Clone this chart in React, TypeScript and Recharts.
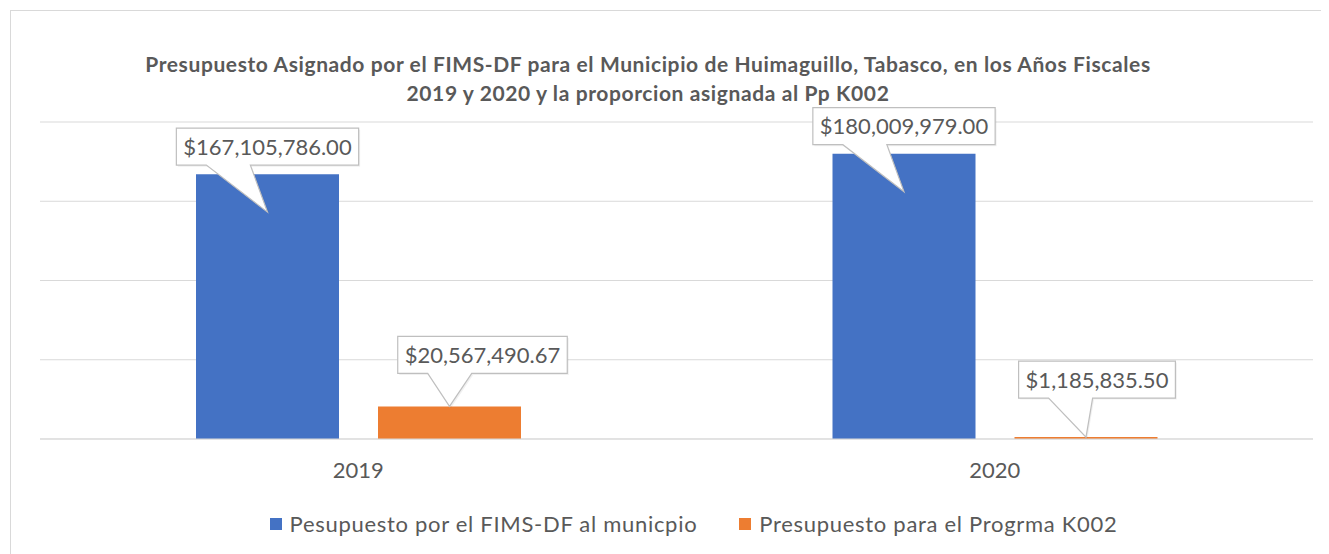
import { BarChart, Bar, XAxis, YAxis, CartesianGrid, Legend, LabelList } from "recharts";

// Presupuesto FIMS-DF Huimaguillo
const years = ["2019", "2020"];
const fimsValues = [167105786.0, 180009979.0];
const k002Values = [20567490.67, 1185835.5];
const yTicks = [0, 50000000, 100000000, 150000000, 200000000];

const seriesNames = {
  fims: "Pesupuesto por el FIMS-DF al municpio",
  k002: "Presupuesto para el Progrma K002",
};

const data = years.map((year, i) => ({ year, fims: fimsValues[i], k002: k002Values[i] }));

const BLUE = "#4472C4";
const ORANGE = "#ED7D31";
const TEXT = "#595959";
const GRID = "#d9d9d9";
const FONT = "Lato, 'Open Sans', sans-serif";

// desplazamientos de las llamadas (caja respecto a la barra)
const calloutLayout: Record<string, { dx: number; gap: number; tip: number }[]> = {
  fims: [
    { dx: 0, gap: 9, tip: 38 },
    { dx: 0, gap: 9, tip: 38 },
  ],
  k002: [
    { dx: 33, gap: 33, tip: 0 },
    { dx: 11, gap: 39, tip: 0 },
  ],
};

const fmt = (v: number) =>
  "$" + v.toLocaleString("en-US", { minimumFractionDigits: 2, maximumFractionDigits: 2 });

let measureCtx: CanvasRenderingContext2D | null = null;
function textWidth(s: string, font: string) {
  if (!measureCtx) measureCtx = document.createElement("canvas").getContext("2d");
  if (!measureCtx) return s.length * 11;
  measureCtx.font = font;
  return measureCtx.measureText(s).width;
}

function makeCallout(key: string) {
  return (props: any) => {
    const { x, y, width, value, index } = props;
    const lay = calloutLayout[key][index];
    const label = fmt(Number(value));
    const w = textWidth(label, `22px ${FONT}`) + 14;
    const h = 37;
    const cx = Number(x) + Number(width) / 2;
    const top = Number(y);
    const bx = cx + lay.dx - w / 2;
    const bBottom = top - lay.gap;
    const bTop = bBottom - h;
    const tipX = cx;
    const tipY = top + lay.tip;
    const p1 = bx + 30;
    const p2 = bx + 74;
    const path = `M${bx},${bTop} H${bx + w} V${bBottom} H${p2} L${tipX},${tipY} L${p1},${bBottom} H${bx} Z`;
    return (
      <g>
        <path d={path} transform="translate(1.5,1.5)" fill="rgba(0,0,0,0.06)" stroke="none" />
        <path d={path} fill="#fff" stroke="#bfbfbf" strokeWidth={1.2} />
        <text x={bx + w / 2} y={bTop + h / 2 + 8} textAnchor="middle" fontSize={22} fill={TEXT} fontFamily={FONT}>
          {label}
        </text>
      </g>
    );
  };
}

function LegendContent() {
  const items = [
    { name: seriesNames.fims, color: BLUE },
    { name: seriesNames.k002, color: ORANGE },
  ];
  return (
    <div
      style={{
        display: "flex",
        justifyContent: "center",
        gap: 42,
        fontFamily: FONT,
        fontSize: 22,
        letterSpacing: 0.7,
        lineHeight: "24px",
        color: TEXT,
        paddingLeft: 34,
      }}
    >
      {items.map((it) => (
        <div key={it.name} style={{ display: "flex", alignItems: "center" }}>
          <span style={{ width: 12, height: 12, background: it.color, display: "inline-block", marginRight: 8 }} />
          {it.name}
        </div>
      ))}
    </div>
  );
}

export default function App() {
  return (
    <div
      style={{
        position: "relative",
        marginLeft: 2,
        marginTop: 2,
        width: 1330,
        height: 560,
        border: `1px solid ${GRID}`,
        background: "#fff",
        fontFamily: FONT,
      }}
    >
      <div
        style={{
          position: "absolute",
          left: 0,
          top: 38,
          width: 1274,
          textAlign: "center",
          fontWeight: 700,
          fontSize: 21,
          letterSpacing: 0.6,
          lineHeight: "29px",
          color: TEXT,
        }}
      >
        Presupuesto Asignado por el FIMS-DF para el Municipio de Huimaguillo, Tabasco, en los Años Fiscales
        <br />
        2019 y 2020 y la proporcion asignada al Pp K002
      </div>
      <BarChart
        width={1318}
        height={542}
        data={data}
        margin={{ top: 111, right: 16, left: 29, bottom: 1 }}
        barGap={39}
        style={{ position: "absolute", left: 0, top: 0 }}
      >
        <CartesianGrid vertical={false} stroke={GRID} />
        <YAxis hide domain={[0, 200000000]} ticks={yTicks} />
        <XAxis
          dataKey="year"
          height={73}
          axisLine={{ stroke: GRID }}
          tickLine={false}
          tickMargin={17}
          tick={{ fill: TEXT, fontSize: 22, fontFamily: FONT }}
        />
        <Legend verticalAlign="bottom" height={40} content={<LegendContent />} />
        <Bar dataKey="fims" name={seriesNames.fims} fill={BLUE} barSize={143} isAnimationActive={false}>
          <LabelList dataKey="fims" content={makeCallout("fims")} />
        </Bar>
        <Bar dataKey="k002" name={seriesNames.k002} fill={ORANGE} barSize={143} isAnimationActive={false}>
          <LabelList dataKey="k002" content={makeCallout("k002")} />
        </Bar>
      </BarChart>
    </div>
  );
}
